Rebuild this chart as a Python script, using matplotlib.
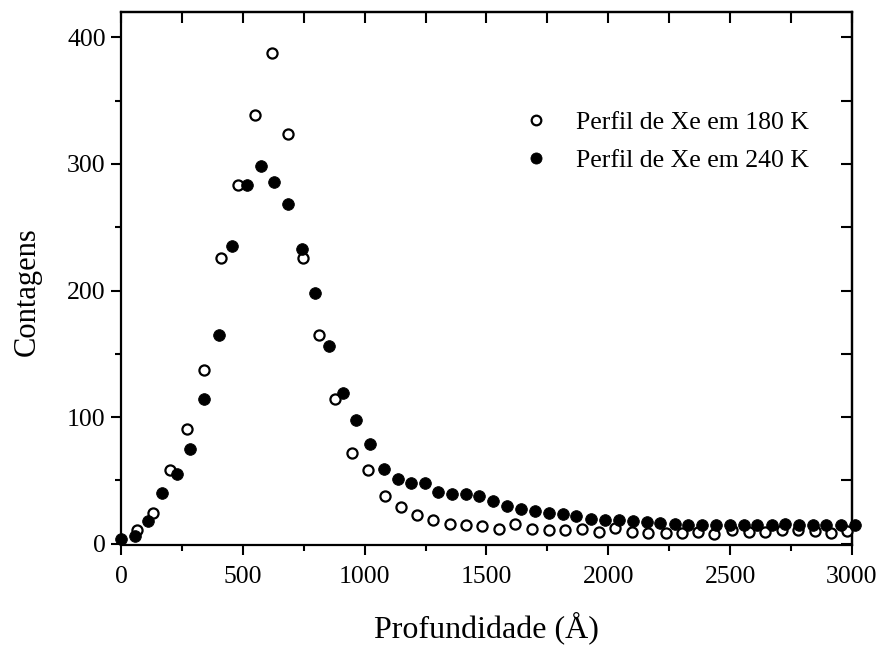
import numpy as np
import matplotlib
matplotlib.use("Agg")
import matplotlib.pyplot as plt
from matplotlib.ticker import MultipleLocator

# --- data ---
depth_180 = [67, 132, 200, 271, 341, 412, 480, 550, 618, 685, 749, 814, 880, 948, 1013,
             1082, 1149, 1217, 1282, 1349, 1417, 1483, 1551, 1619, 1685, 1756, 1824, 1892,
             1960, 2029, 2097, 2165, 2236, 2301, 2370, 2435, 2506, 2577, 2643, 2711, 2779,
             2847, 2915, 2981]
counts_180 = [11, 24, 58, 91, 137, 226, 283, 339, 388, 324, 226, 165, 114, 72, 58,
              38, 29, 23, 19, 16, 15, 14, 12, 15.5, 11.6, 10.5, 11, 11.6,
              9.2, 12.4, 9.2, 8.4, 8.4, 8.4, 9.2, 8, 11, 9.2, 9.2, 11, 10.5,
              9.7, 8.4, 9.7]

depth_240 = [0, 57, 112, 170, 228, 282, 341, 402, 457, 518, 573, 630, 686, 741, 798,
             853, 910, 965, 1023, 1078, 1135, 1190, 1248, 1303, 1360, 1415, 1469, 1527,
             1585, 1640, 1699, 1756, 1815, 1868, 1930, 1988, 2042, 2100, 2158, 2213,
             2272, 2326, 2383, 2441, 2499, 2558, 2612, 2670, 2727, 2783, 2840, 2895,
             2954, 3014]
counts_240 = [4, 6, 18, 40, 55, 75, 114, 165, 235, 283, 298, 286, 268, 233, 198,
              156, 119, 98, 79, 59, 51, 48, 48, 41, 39, 39, 38, 34,
              29.5, 27.5, 26, 24, 23.4, 22, 19.5, 18.4, 18.4, 17.6, 16.8, 16.3,
              15.8, 15, 14.5, 14.5, 14.5, 14.5, 14.5, 15, 15.5, 15, 15, 15,
              15, 14.5]

label_180 = "Perfil de Xe em 180 K"
label_240 = "Perfil de Xe em 240 K"
x_label = "Profundidade (Å)"
y_label = "Contagens"

plt.rcParams['font.family'] = ['Liberation Serif', 'DejaVu Serif']

fig = plt.figure(figsize=(8.81, 6.45), dpi=100)
ax = fig.add_axes([0.1373, 0.155, 0.8297, 0.8264])

ax.plot(depth_180, counts_180, linestyle='none', marker='o', ms=7.3,
        mfc='white', mec='black', mew=1.6, label=label_180, clip_on=False, zorder=3)
ax.plot(depth_240, counts_240, linestyle='none', marker='o', ms=8.4,
        mfc='black', mec='black', mew=0.6, label=label_240, clip_on=False, zorder=4)

ax.set_xlim(0, 3000)
ax.set_ylim(-1, 420)

ax.xaxis.set_major_locator(MultipleLocator(500))
ax.xaxis.set_minor_locator(MultipleLocator(250))
ax.yaxis.set_major_locator(MultipleLocator(100))
ax.yaxis.set_minor_locator(MultipleLocator(50))

ax.tick_params(which='major', direction='out', length=7, width=1.5,
               labelsize=18.5, pad=8, top=False, right=False)
ax.tick_params(which='minor', direction='out', length=4, width=1.5,
               top=False, right=False)
ax.tick_params(axis='y', which='major', pad=4)

for s in ax.spines.values():
    s.set_linewidth(1.6)

# top and right inward ticks
secx = ax.secondary_xaxis('top')
secx.set_xticks(np.arange(0, 3001, 250))
secx.tick_params(direction='in', length=8, width=1.5, labeltop=False)
secx.spines['top'].set_linewidth(1.6)
secy = ax.secondary_yaxis('right')
secy.set_yticks(np.arange(0, 401, 50))
secy.tick_params(direction='in', length=8, width=1.5, labelright=False)
secy.spines['right'].set_linewidth(1.6)

ax.set_xlabel(x_label, fontsize=23)
ax.set_ylabel(y_label, fontsize=22)
ax.xaxis.set_label_coords(0.5, -0.124)
ax.yaxis.set_label_coords(-0.108, 0.476)

leg = ax.legend(loc='upper left', bbox_to_anchor=(0.5505, 0.815), frameon=False,
                fontsize=18.5, handlelength=1.0, handletextpad=1.04,
                labelspacing=0.6, borderpad=0, borderaxespad=0, markerscale=0.95)

fig.savefig("out.png", dpi=100)
